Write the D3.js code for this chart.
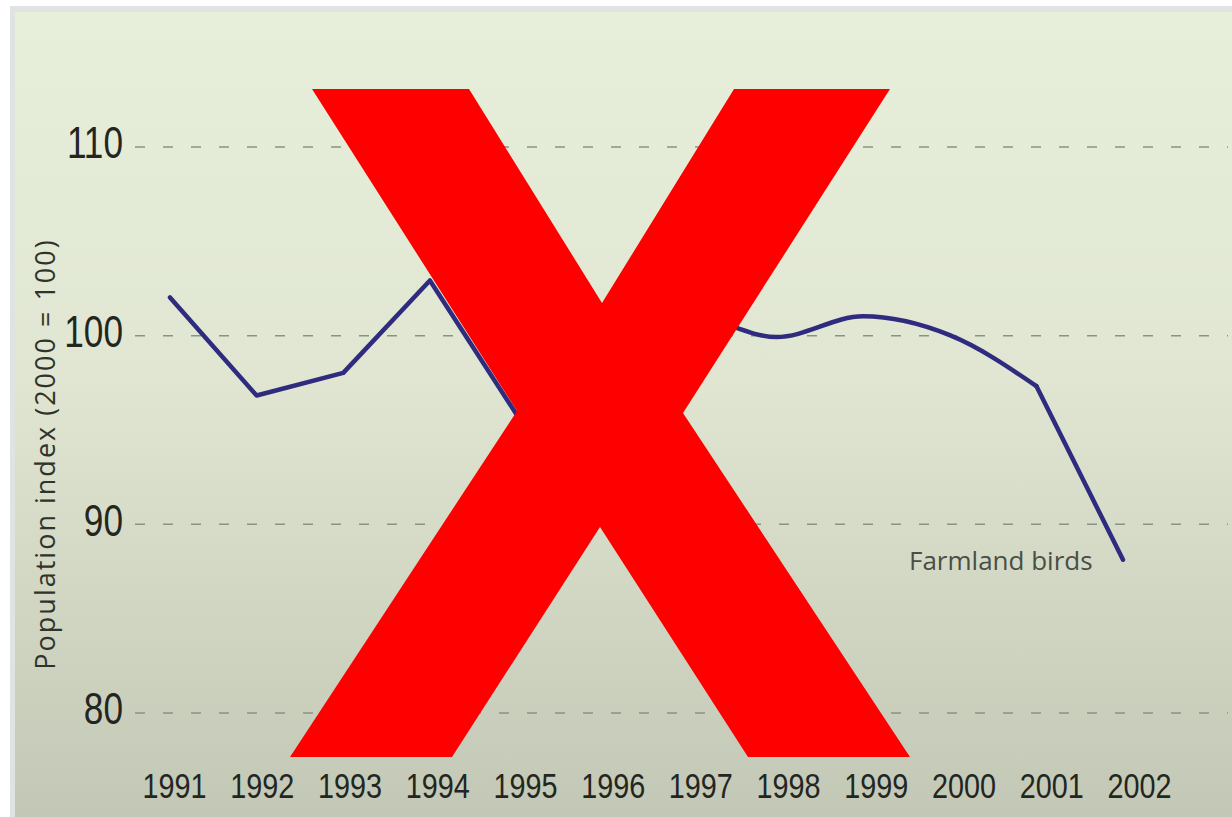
<!DOCTYPE html>
<html>
<head>
<meta charset="utf-8">
<script src="https://cdn.jsdelivr.net/npm/d3@7"></script>
<style>
  html, body { margin: 0; padding: 0; background: #fff; }
  svg { display: block; }
</style>
</head>
<body>
<div id="chart"></div>
<script>
(function() {

  'use strict';

  var years = ['1991', '1992', '1993', '1994', '1995', '1996', '1997', '1998', '1999', '2000', '2001', '2002'];
  var farmlandIndex = [102.0, 96.8, 98.0, 102.9, 95.8, 98.5, 101.0, 99.9, 101.0, 100.0, 97.3, 88.1];
  var yTicks = [80, 90, 100, 110];
  var seriesLabel = 'Farmland birds';
  var yAxisName = 'Population index (2000 = 100)';

  // Outline of the red cross stamped over the picture.
  var crossOutline = [
    [312, 89], [469, 89], [602, 303], [734, 89], [890, 89], [683, 413],
    [910, 757], [748, 757], [600, 527], [452, 757], [290, 757], [517, 411]
  ];

  var width = 1232;
  var height = 817;
  var squeeze = 0.8; // no narrow font installed, so squeeze Liberation Sans

  var x = d3.scalePoint().domain(years).range([170, 1123]);
  var xLabels = d3.scalePoint().domain(years).range([174, 1139]);
  var y = d3.scaleLinear().domain([80, 110]).range([712.5, 146.5]);

  var svg = d3.select('#chart')
    .append('svg')
    .attr('width', width)
    .attr('height', height);

  var defs = svg.append('defs');
  var bgGradient = defs.append('linearGradient')
    .attr('id', 'panel-gradient')
    .attr('x1', '0%').attr('y1', '0%')
    .attr('x2', '0%').attr('y2', '100%');
  bgGradient.append('stop').attr('offset', '0%').attr('stop-color', '#e7efda');
  bgGradient.append('stop').attr('offset', '45%').attr('stop-color', '#e0e6d1');
  bgGradient.append('stop').attr('offset', '100%').attr('stop-color', '#c3c8b6');

  // Frame and panel.
  svg.append('rect')
    .attr('x', 10).attr('y', 6)
    .attr('width', width - 10).attr('height', height - 6)
    .attr('fill', '#dfe3e2');
  svg.append('rect')
    .attr('x', 15).attr('y', 12)
    .attr('width', width - 15).attr('height', height - 12)
    .attr('fill', 'url(#panel-gradient)');

  // Dashed gridlines with the value labels.
  var yAxis = d3.axisLeft(y)
    .tickValues(yTicks)
    .tickSize(-(1228 - 135))
    .tickPadding(12)
    .tickFormat(d3.format('d'));

  var gy = svg.append('g')
    .attr('transform', 'translate(135,0)')
    .call(yAxis);
  gy.select('.domain').remove();
  gy.selectAll('.tick line')
    .attr('stroke', '#8c9186')
    .attr('stroke-width', 1.5)
    .attr('stroke-dasharray', '10,18');
  gy.selectAll('.tick text')
    .attr('x', -12 / squeeze)
    .attr('dy', '0.26em')
    .attr('transform', 'scale(' + squeeze + ',1)')
    .attr('fill', '#23261f')
    .style('font-family', '"Liberation Sans", sans-serif')
    .style('font-size', '44px');

  // Year labels.
  var xAxis = d3.axisBottom(xLabels).tickSize(0).tickPadding(0);
  var gx = svg.append('g')
    .attr('transform', 'translate(0,798)')
    .call(xAxis);
  gx.select('.domain').remove();
  gx.selectAll('.tick text')
    .attr('y', 0)
    .attr('dy', null)
    .attr('transform', 'scale(' + squeeze + ',1)')
    .attr('fill', '#23261f')
    .style('font-family', '"Liberation Sans", sans-serif')
    .style('font-size', '36px');

  // Y-axis title.
  svg.append('text')
    .attr('transform', 'rotate(-90)')
    .attr('x', -454)
    .attr('y', 55)
    .attr('text-anchor', 'middle')
    .attr('fill', '#30332c')
    .style('font-family', '"Open Sans", sans-serif')
    .style('font-size', '27px')
    .style('letter-spacing', '2px')
    .text(yAxisName);

  // Series line: straight early on, smooth through the late nineties, kink at 2001.
  var points = years.map(function(d, i) { return { year: d, value: farmlandIndex[i] }; });

  var line = d3.line()
    .x(function(d) { return x(d.year); })
    .y(function(d) { return y(d.value); });

  var pieces = [
    { data: points.slice(0, 5), curve: d3.curveLinear },
    { data: points.slice(4, 11), curve: d3.curveMonotoneX },
    { data: points.slice(10), curve: d3.curveLinear }
  ];

  pieces.forEach(function(p) {
    svg.append('path')
      .datum(p.data)
      .attr('d', line.curve(p.curve))
      .attr('fill', 'none')
      .attr('stroke', '#2f2b7e')
      .attr('stroke-width', 4.5)
      .attr('stroke-linejoin', 'round')
      .attr('stroke-linecap', 'round');
  });

  svg.append('text')
    .attr('x', 909)
    .attr('y', 570)
    .attr('fill', '#4a4e45')
    .style('font-family', '"Open Sans", sans-serif')
    .style('font-size', '26px')
    .text(seriesLabel);

  // Red cross on top.
  svg.append('path')
    .attr('d', d3.line()(crossOutline) + 'Z')
    .attr('fill', '#ff0000');

}());
</script>
</body>
</html>
